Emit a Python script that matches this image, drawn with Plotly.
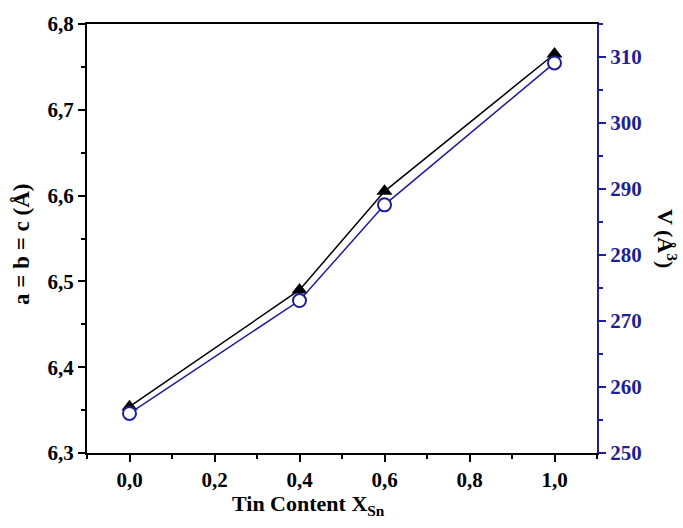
import plotly.graph_objects as go

x_sn = [0.0, 0.4, 0.6, 1.0]
lattice_a = [6.354, 6.490, 6.605, 6.765]
volume_v = [256.0, 273.1, 287.6, 309.1]

left_ticks = [6.3, 6.4, 6.5, 6.6, 6.7, 6.8]
right_ticks = [250, 260, 270, 280, 290, 300, 310]
x_ticks = [0.0, 0.2, 0.4, 0.6, 0.8, 1.0]

BLUE = "#1e1e96"
FONT = "Liberation Serif"

fig = go.Figure()
fig.add_trace(go.Scatter(
    x=x_sn, y=lattice_a, mode="lines+markers",
    line=dict(color="black", width=1.5),
    marker=dict(symbol="triangle-up", size=14, color="black"),
    yaxis="y", showlegend=False))
fig.add_trace(go.Scatter(
    x=x_sn, y=volume_v, mode="lines+markers",
    line=dict(color=BLUE, width=1.5),
    marker=dict(symbol="circle", size=13, color="white", line=dict(color=BLUE, width=2)),
    yaxis="y2", showlegend=False))

fig.update_layout(
    width=683, height=528,
    margin=dict(l=87, r=86, t=22, b=75),
    plot_bgcolor="white", paper_bgcolor="white",
    separators=", ",
    font=dict(family=FONT, size=21, color="black"),
    xaxis=dict(
        range=[-0.1, 1.1], tickvals=x_ticks, tickformat=".1f",
        showline=True, linecolor="black", linewidth=2, mirror=True,
        ticks="outside", ticklen=7, tickwidth=1.5, tickcolor="black",
        minor=dict(ticks="outside", ticklen=4, dtick=0.1, tick0=0, tickcolor="black", tickwidth=1.5),
        showgrid=False, zeroline=False,
        tickfont=dict(family=FONT, size=21, color="black", weight="bold"),
    ),
    yaxis=dict(
        range=[6.3, 6.8], tickvals=left_ticks, tickformat=".1f",
        showline=True, linecolor="black", linewidth=2,
        ticks="outside", ticklen=7, tickwidth=1.5, tickcolor="black",
        minor=dict(ticks="outside", ticklen=4, dtick=0.05, tick0=6.3, tickcolor="black", tickwidth=1.5),
        showgrid=False, zeroline=False,
        tickfont=dict(family=FONT, size=21, color="black", weight="bold"),
    ),
    yaxis2=dict(
        range=[250, 315], tickvals=right_ticks, overlaying="y", side="right",
        showline=True, linecolor=BLUE, linewidth=2,
        ticks="outside", ticklen=7, tickwidth=1.5, tickcolor=BLUE,
        minor=dict(ticks="outside", ticklen=4, dtick=5, tick0=250, tickcolor=BLUE, tickwidth=1.5),
        showgrid=False, zeroline=False,
        tickfont=dict(family=FONT, size=21, color=BLUE, weight="bold"),
    ),
    annotations=[
        dict(text="<b>V (Å<sup>3</sup>)</b>", textangle=90, xref="paper", yref="paper",
             x=(667 - 87) / 510, y=(453 - 237) / 431, xanchor="center", yanchor="middle",
             showarrow=False, font=dict(family=FONT, size=22, color="black")),
        dict(text="<b>a = b = c (Å)</b>", textangle=-90, xref="paper", yref="paper",
             x=(22 - 87) / 510, y=(453 - 244) / 431, xanchor="center", yanchor="middle",
             showarrow=False, font=dict(family=FONT, size=23, color="black")),
        dict(text="<b>Tin Content X<sub>Sn</sub></b>", xref="paper", yref="paper",
             x=(308 - 87) / 510, y=(453 - 505) / 431, xanchor="center", yanchor="middle",
             showarrow=False, font=dict(family=FONT, size=22, color="black")),
    ],
)

fig.write_html("out.html", config={"displayModeBar": False},
               post_script="document.body.style.margin='0';")
